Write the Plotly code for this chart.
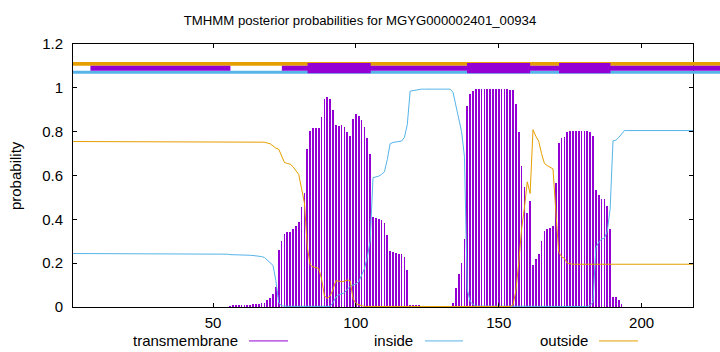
import plotly.graph_objects as go

# ---------------- data (per residue, 1..218) ----------------
tm_prob = [
    0.000, 0.000, 0.000, 0.000, 0.000, 0.000, 0.000, 0.000, 0.000, 0.000,
    0.000, 0.000, 0.000, 0.000, 0.000, 0.000, 0.000, 0.000, 0.000, 0.000,
    0.000, 0.000, 0.000, 0.000, 0.000, 0.000, 0.000, 0.000, 0.000, 0.000,
    0.000, 0.000, 0.000, 0.000, 0.000, 0.000, 0.000, 0.000, 0.000, 0.000,
    0.000, 0.000, 0.000, 0.000, 0.000, 0.000, 0.000, 0.000, 0.000, 0.000,
    0.000, 0.000, 0.000, 0.000, 0.000, 0.002, 0.005, 0.006, 0.007, 0.008,
    0.009, 0.010, 0.011, 0.012, 0.013, 0.015, 0.017, 0.020, 0.030, 0.040,
    0.060, 0.090, 0.260, 0.300, 0.335, 0.340, 0.342, 0.355, 0.370, 0.390,
    0.455, 0.520, 0.720, 0.805, 0.815, 0.818, 0.818, 0.868, 0.948, 0.959,
    0.948, 0.900, 0.832, 0.827, 0.830, 0.821, 0.797, 0.782, 0.858, 0.882,
    0.873, 0.851, 0.823, 0.773, 0.697, 0.410, 0.408, 0.403, 0.395, 0.383,
    0.327, 0.255, 0.249, 0.247, 0.244, 0.243, 0.226, 0.168, 0.006, 0.006,
    0.005, 0.005, 0.000, 0.000, 0.000, 0.000, 0.000, 0.000, 0.000, 0.000,
    0.000, 0.000, 0.000, 0.020, 0.085, 0.149, 0.199, 0.312, 0.918, 0.974,
    0.986, 0.994, 0.994, 0.994, 0.994, 0.994, 0.994, 0.994, 0.994, 0.994,
    0.994, 0.994, 0.994, 0.990, 0.988, 0.926, 0.797, 0.645, 0.547, 0.429,
    0.482, 0.191, 0.221, 0.244, 0.300, 0.345, 0.355, 0.362, 0.370, 0.567,
    0.748, 0.771, 0.777, 0.800, 0.802, 0.805, 0.805, 0.805, 0.805, 0.805,
    0.802, 0.798, 0.782, 0.536, 0.509, 0.494, 0.491, 0.459, 0.358, 0.047,
    0.044, 0.032, 0.014, 0.000, 0.000, 0.000, 0.000, 0.000, 0.000, 0.000,
    0.000, 0.000, 0.000, 0.000, 0.000, 0.000, 0.000, 0.000, 0.000, 0.000,
    0.000, 0.000, 0.000, 0.000, 0.000, 0.000, 0.000, 0.000,
]

inside_prob = [
    0.244, 0.244, 0.244, 0.244, 0.244, 0.244, 0.244, 0.244, 0.244, 0.244,
    0.244, 0.244, 0.244, 0.244, 0.244, 0.244, 0.244, 0.244, 0.244, 0.244,
    0.243, 0.243, 0.243, 0.243, 0.243, 0.243, 0.243, 0.243, 0.243, 0.243,
    0.243, 0.243, 0.243, 0.243, 0.243, 0.243, 0.243, 0.243, 0.243, 0.243,
    0.242, 0.242, 0.242, 0.242, 0.242, 0.242, 0.242, 0.242, 0.242, 0.242,
    0.241, 0.241, 0.241, 0.241, 0.241, 0.239, 0.239, 0.239, 0.239, 0.239,
    0.238, 0.237, 0.236, 0.235, 0.234, 0.232, 0.230, 0.226, 0.215, 0.205,
    0.190, 0.120, 0.020, 0.005, 0.003, 0.003, 0.003, 0.003, 0.003, 0.003,
    0.003, 0.003, 0.003, 0.003, 0.003, 0.003, 0.003, 0.003, 0.003, 0.003,
    0.003, 0.020, 0.045, 0.055, 0.060, 0.065, 0.080, 0.095, 0.100, 0.105,
    0.115, 0.145, 0.175, 0.227, 0.300, 0.590, 0.592, 0.597, 0.605, 0.617,
    0.673, 0.745, 0.751, 0.753, 0.756, 0.757, 0.774, 0.832, 0.985, 0.988,
    0.990, 0.992, 0.994, 0.994, 0.994, 0.994, 0.994, 0.994, 0.994, 0.994,
    0.994, 0.994, 0.994, 0.980, 0.915, 0.850, 0.800, 0.688, 0.080, 0.025,
    0.012, 0.004, 0.004, 0.004, 0.004, 0.004, 0.004, 0.004, 0.004, 0.004,
    0.004, 0.004, 0.004, 0.004, 0.004, 0.004, 0.004, 0.004, 0.004, 0.004,
    0.004, 0.004, 0.004, 0.004, 0.004, 0.004, 0.004, 0.004, 0.004, 0.004,
    0.004, 0.004, 0.004, 0.004, 0.004, 0.004, 0.004, 0.004, 0.004, 0.004,
    0.002, 0.007, 0.023, 0.270, 0.296, 0.310, 0.314, 0.346, 0.447, 0.758,
    0.761, 0.773, 0.790, 0.805, 0.805, 0.805, 0.805, 0.805, 0.805, 0.805,
    0.805, 0.805, 0.805, 0.805, 0.805, 0.805, 0.805, 0.805, 0.805, 0.805,
    0.805, 0.805, 0.805, 0.805, 0.805, 0.805, 0.805, 0.805,
]

outside_prob = [
    0.755, 0.755, 0.755, 0.755, 0.755, 0.755, 0.755, 0.755, 0.755, 0.755,
    0.755, 0.755, 0.755, 0.755, 0.755, 0.755, 0.755, 0.755, 0.755, 0.755,
    0.755, 0.755, 0.755, 0.755, 0.755, 0.755, 0.755, 0.755, 0.755, 0.755,
    0.755, 0.755, 0.755, 0.755, 0.755, 0.755, 0.755, 0.755, 0.755, 0.755,
    0.755, 0.755, 0.755, 0.755, 0.755, 0.755, 0.755, 0.755, 0.755, 0.755,
    0.755, 0.755, 0.755, 0.755, 0.755, 0.755, 0.755, 0.755, 0.755, 0.755,
    0.755, 0.755, 0.755, 0.755, 0.755, 0.755, 0.755, 0.752, 0.748, 0.745,
    0.735, 0.725, 0.720, 0.690, 0.660, 0.655, 0.652, 0.640, 0.625, 0.605,
    0.540, 0.475, 0.275, 0.192, 0.183, 0.180, 0.176, 0.128, 0.050, 0.040,
    0.050, 0.080, 0.120, 0.118, 0.115, 0.118, 0.123, 0.120, 0.040, 0.015,
    0.010, 0.005, 0.002, 0.002, 0.002, 0.002, 0.002, 0.002, 0.002, 0.002,
    0.002, 0.002, 0.002, 0.002, 0.002, 0.002, 0.002, 0.002, 0.002, 0.002,
    0.002, 0.002, 0.002, 0.002, 0.002, 0.002, 0.002, 0.002, 0.002, 0.002,
    0.002, 0.002, 0.002, 0.002, 0.002, 0.002, 0.002, 0.002, 0.002, 0.002,
    0.002, 0.002, 0.002, 0.002, 0.002, 0.002, 0.002, 0.002, 0.002, 0.002,
    0.002, 0.002, 0.002, 0.002, 0.010, 0.074, 0.200, 0.355, 0.453, 0.571,
    0.518, 0.809, 0.779, 0.756, 0.700, 0.655, 0.645, 0.638, 0.630, 0.433,
    0.252, 0.229, 0.222, 0.200, 0.197, 0.195, 0.195, 0.195, 0.195, 0.195,
    0.195, 0.195, 0.195, 0.195, 0.195, 0.195, 0.195, 0.195, 0.195, 0.195,
    0.195, 0.195, 0.195, 0.195, 0.195, 0.195, 0.195, 0.195, 0.195, 0.195,
    0.195, 0.195, 0.195, 0.195, 0.195, 0.195, 0.195, 0.195, 0.195, 0.195,
    0.195, 0.195, 0.195, 0.195, 0.195, 0.195, 0.195, 0.195,
]

residues = list(range(1, len(tm_prob) + 1))

# topology bands at the top (residue start, residue end)
outside_band = [(1, 232)]
inside_band = [(1, 232)]
tm_thin_band = [(7.1, 56.1), (74.1, 232)]
tm_thick_band = [(83.1, 105.2), (138.9, 161.0), (171.1, 189.1)]

x_range = [1, 218]
x_ticks = [50, 100, 150, 200]
legend_names = ["transmembrane", "inside", "outside"]

title_text = "TMHMM posterior probabilities for MGYG000002401_00934"
y_label = "probability"

PURPLE = "#9400D3"
BLUE = "#56B4E9"
ORANGE = "#E69F00"
FONT = "Liberation Sans"

fig = go.Figure()
fig.add_trace(go.Bar(x=residues, y=tm_prob, width=0.25,
                     marker=dict(color=PURPLE, line=dict(width=0)),
                     showlegend=False, hoverinfo="skip"))
fig.add_trace(go.Scatter(x=residues, y=inside_prob, mode="lines",
                         line=dict(color=BLUE, width=1), showlegend=False))
fig.add_trace(go.Scatter(x=residues, y=outside_prob, mode="lines",
                         line=dict(color=ORANGE, width=1), showlegend=False))


def to_paper(r):
    return (r - x_range[0]) / (x_range[1] - x_range[0])


shapes = []
for a, b in outside_band:
    shapes.append(dict(type="rect", xref="paper", yref="y", x0=to_paper(a), x1=to_paper(b),
                       y0=1.101, y1=1.118, fillcolor=ORANGE, line=dict(width=0)))
for a, b in inside_band:
    shapes.append(dict(type="rect", xref="paper", yref="y", x0=to_paper(a), x1=to_paper(b),
                       y0=1.064, y1=1.078, fillcolor=BLUE, line=dict(width=0)))
for a, b in tm_thin_band:
    shapes.append(dict(type="rect", xref="paper", yref="y", x0=to_paper(a), x1=to_paper(b),
                       y0=1.078, y1=1.101, fillcolor=PURPLE, line=dict(width=0)))
for a, b in tm_thick_band:
    shapes.append(dict(type="rect", xref="paper", yref="y", x0=to_paper(a), x1=to_paper(b),
                       y0=1.066, y1=1.113, fillcolor=PURPLE, line=dict(width=0)))

# gnuplot-style legend below the plot: text, then a line sample
legend_colors = [PURPLE, BLUE, ORANGE]
legend_text_right = [0.2694, 0.5516, 0.8339]
legend_line = [(0.2839, 0.3468), (0.5677, 0.6290), (0.8484, 0.9113)]
legend_y = -0.129
annotations = []
for name, col, xr, (l0, l1) in zip(legend_names, legend_colors, legend_text_right, legend_line):
    annotations.append(dict(text=name, xref="paper", yref="paper", x=xr, y=legend_y,
                            xanchor="right", yanchor="middle", showarrow=False,
                            font=dict(family=FONT, size=15, color="black")))
    shapes.append(dict(type="line", xref="paper", yref="paper", x0=l0, x1=l1,
                       y0=legend_y, y1=legend_y, line=dict(color=col, width=1)))

annotations.append(dict(text=y_label, xref="paper", yref="paper", x=-0.0935, y=0.498,
                        textangle=-90, xanchor="center", yanchor="middle", showarrow=False,
                        font=dict(family=FONT, size=15, color="black")))

axis_common = dict(showgrid=False, zeroline=False, showline=True, linecolor="black",
                   linewidth=1, mirror="ticks", ticks="inside", ticklen=4,
                   tickcolor="black", tickwidth=1,
                   tickfont=dict(family=FONT, size=15, color="black"))

fig.update_layout(
    width=720, height=352,
    margin=dict(l=73, r=27, t=44, b=45),
    paper_bgcolor="white", plot_bgcolor="white",
    title=dict(text=title_text, x=0.5, xref="container", xanchor="center",
               y=1 - 20 / 352, yref="container", yanchor="middle",
               font=dict(family=FONT, size=13.2, color="black")),
    xaxis=dict(range=x_range, tickvals=x_ticks, ticklabelstandoff=2, **axis_common),
    yaxis=dict(range=[0, 1.2], dtick=0.2, tick0=0, ticklabelstandoff=6, **axis_common),
    shapes=shapes, annotations=annotations, bargap=0,
    showlegend=False,
)

fig.write_html("out.html")
